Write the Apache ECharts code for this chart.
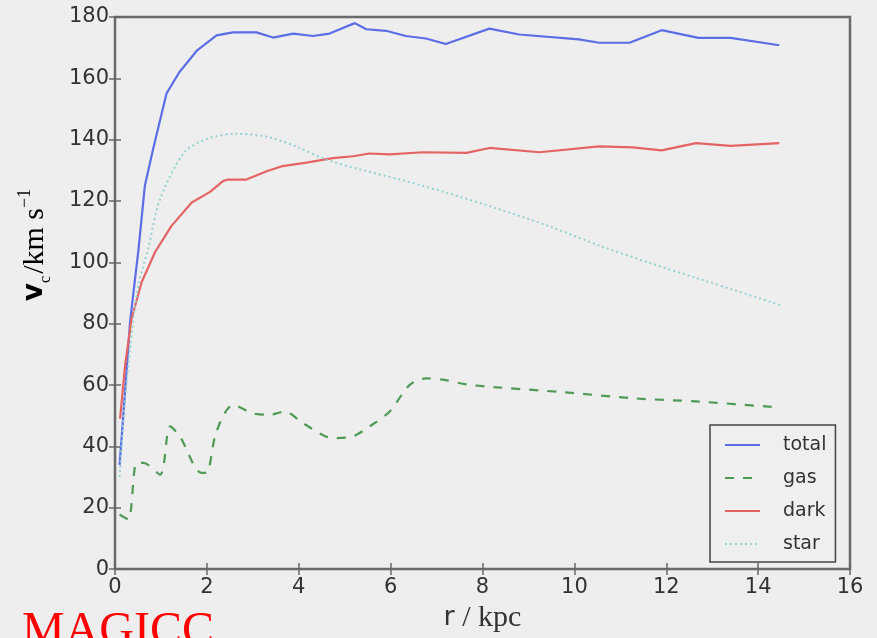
<!DOCTYPE html>
<html>
<head>
<meta charset="utf-8">
<script src="https://cdn.jsdelivr.net/npm/echarts@6/dist/echarts.min.js"></script>
<style>
html,body{margin:0;padding:0;background:#eeeeee;}
#chart{width:877px;height:638px;}
</style>
</head>
<body>
<div id="chart"></div>
<script>
// ---- data ----
var seriesNames = ['total', 'gas', 'dark', 'star'];

var rTotal = [0.1, 0.22, 0.33, 0.51, 0.65, 0.83, 1.12, 1.4, 1.78, 2.21, 2.57, 3.08, 3.44, 3.88, 4.31, 4.67, 5.22, 5.47, 5.9, 6.33, 6.77, 7.2, 8.15, 8.8, 10.1, 10.54, 11.2, 11.9, 12.7, 13.4, 14.46];
var vTotal = [34, 58, 81, 104, 125, 137, 155, 162, 169, 174, 175, 175, 173.3, 174.6, 173.8, 174.6, 178, 176, 175.5, 173.8, 173, 171.2, 176.2, 174.3, 172.7, 171.6, 171.6, 175.7, 173.2, 173.2, 170.8];

var rGas = [0.1, 0.29, 0.47, 0.62, 0.98, 1.2, 1.41, 1.88, 1.99, 2.21, 2.57, 3.0, 3.37, 3.7, 4.09, 4.75, 5.18, 5.54, 5.98, 6.41, 6.77, 7.2, 7.65, 8.37, 9.82, 11.27, 12.72, 14.46];
var vGas = [17.8, 16.2, 34.6, 34.6, 30.8, 46.5, 43.3, 31.4, 31.4, 44.9, 53.5, 50.8, 50.3, 51.4, 47.6, 42.7, 43.3, 46.5, 51.4, 60, 62.2, 61.6, 60.2, 59.2, 57.6, 55.7, 54.6, 52.7];

var rDark = [0.11, 0.22, 0.36, 0.58, 0.87, 1.23, 1.67, 2.07, 2.35, 2.46, 2.86, 3.3, 3.65, 4.17, 4.74, 5.18, 5.54, 5.98, 6.7, 7.65, 8.15, 9.24, 10.54, 11.27, 11.9, 12.65, 13.4, 14.46];
var vDark = [49, 66.5, 81.6, 93.5, 103.3, 111.9, 119.5, 123, 126.5, 127, 127, 129.7, 131.4, 132.5, 134, 134.6, 135.5, 135.2, 135.9, 135.7, 137.3, 135.9, 137.8, 137.5, 136.5, 138.9, 138, 138.9];

var rStar = [0.1, 0.2, 0.33, 0.5, 0.72, 0.98, 1.52, 2.07, 2.64, 3.3, 3.94, 4.6, 5.33, 6.2, 7.2, 8.37, 9.5, 10.54, 11.6, 12.72, 14.5];
var vStar = [30, 52, 72, 92, 104.3, 120.6, 136, 140.6, 141.9, 141, 137.8, 133.5, 130.3, 127, 122.8, 117.3, 111.5, 105.5, 100, 94.6, 86];

var xMin = 0, xMax = 16, xStep = 2;
var yMin = 0, yMax = 180, yStep = 20;

function pairs(xs, ys) { return xs.map(function (x, i) { return [x, ys[i]]; }); }

var chart = echarts.init(document.getElementById('chart'), null, {renderer: 'canvas'});
var labelFont = 'DejaVu Sans';
var tickStyle = {show: true, inside: true, length: 6, lineStyle: {color: '#666', width: 1.5}};

var option = {
  backgroundColor: '#eeeeee',
  animation: false,
  grid: {left: 115, right: 27, top: 17, bottom: 66, show: true, borderColor: '#6a6a6a', borderWidth: 2.5, backgroundColor: 'transparent'},
  xAxis: [{
    type: 'value', min: xMin, max: xMax, interval: xStep, position: 'bottom',
    axisLine: {show: false}, axisTick: tickStyle, splitLine: {show: false},
    axisLabel: {color: '#333', fontFamily: labelFont, fontSize: 21, margin: 8},
    name: '{r|r}{s| / kpc}', nameLocation: 'middle', nameGap: 33,
    nameTextStyle: {rich: {
      r: {fontFamily: labelFont, fontSize: 27, color: '#333'},
      s: {fontFamily: 'Liberation Serif', fontSize: 30, color: '#333'}
    }}
  }, {
    type: 'value', min: xMin, max: xMax, interval: xStep, position: 'top',
    axisLine: {show: false}, axisTick: tickStyle, splitLine: {show: false}, axisLabel: {show: false}
  }],
  yAxis: [{
    type: 'value', min: yMin, max: yMax, interval: yStep, position: 'left',
    axisLine: {show: false}, axisTick: tickStyle, splitLine: {show: false},
    axisLabel: {color: '#333', fontFamily: labelFont, fontSize: 21, margin: 6}
  }, {
    type: 'value', min: yMin, max: yMax, interval: yStep, position: 'right',
    axisLine: {show: false}, axisTick: tickStyle, splitLine: {show: false}, axisLabel: {show: false}
  }],
  legend: {
    orient: 'vertical', left: 710, top: 425,
    data: seriesNames,
    backgroundColor: '#efefef', borderColor: '#444', borderWidth: 1.5,
    padding: [10, 9, 8, 14],
    itemWidth: 35, itemHeight: 14, itemGap: 13,
    itemStyle: {opacity: 0},
    textStyle: {fontFamily: labelFont, fontSize: 19, color: '#333', lineHeight: 20, padding: [0, 0, 0, 18]}
  },
  series: [
    {name: 'total', type: 'line', symbol: 'none', data: pairs(rTotal, vTotal),
     lineStyle: {color: '#5b6ee6', width: 2.2}, itemStyle: {color: '#5b6ee6'}},
    {name: 'gas', type: 'line', symbol: 'none', smooth: 0.3, data: pairs(rGas, vGas),
     lineStyle: {color: '#4f9a55', width: 2.2, type: [9, 9]}, itemStyle: {color: '#4f9a55'}},
    {name: 'dark', type: 'line', symbol: 'none', data: pairs(rDark, vDark),
     lineStyle: {color: '#e46464', width: 2.2}, itemStyle: {color: '#e46464'}},
    {name: 'star', type: 'line', symbol: 'none', smooth: 0.3, data: pairs(rStar, vStar),
     lineStyle: {color: '#94d2d0', width: 2, type: [2, 3]}, itemStyle: {color: '#94d2d0'}}
  ],
  graphic: [
    {
      type: 'text', x: 35, y: 245, rotation: Math.PI / 2,
      style: {
        text: '{v|v}{c|c}{s|/km s}{p|−1}',
        align: 'center', verticalAlign: 'middle',
        rich: {
          v: {fontFamily: labelFont, fontWeight: 'bold', fontSize: 28, color: '#333', lineHeight: 38, verticalAlign: 'middle'},
          c: {fontFamily: 'Liberation Serif', fontSize: 16, color: '#333', verticalAlign: 'bottom', lineHeight: 38, padding: [0, 2, 0, 0]},
          s: {fontFamily: 'Liberation Serif', fontSize: 30, color: '#333', lineHeight: 38, verticalAlign: 'middle'},
          p: {fontFamily: 'Liberation Serif', fontSize: 18, color: '#333', verticalAlign: 'top', lineHeight: 38}
        }
      }
    },
    {
      type: 'text', x: 22, y: 632,
      style: {text: 'MAGICC', fontFamily: 'Liberation Serif', fontSize: 48, fill: '#ff0000', align: 'left', verticalAlign: 'middle'}
    }
  ]
};
chart.setOption(option);
</script>
</body>
</html>
